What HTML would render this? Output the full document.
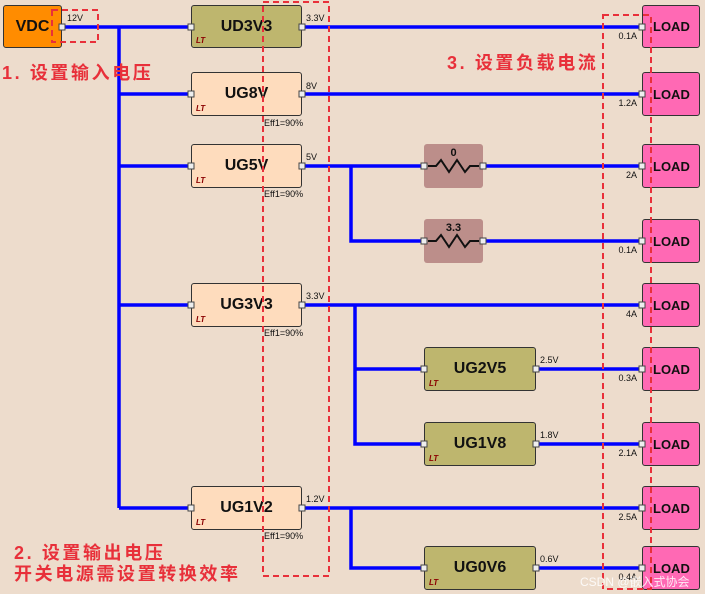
<!DOCTYPE html>
<html><head><meta charset="utf-8"><style>
body{margin:0;width:705px;height:594px;background:#EDDCCC;position:relative;overflow:hidden;font-family:"Liberation Sans","Noto Sans CJK SC",sans-serif}
.b{position:absolute;box-sizing:border-box;border:1.5px solid #333;border-radius:3px;display:flex;align-items:center;justify-content:center;font-weight:bold;font-size:16px;color:#111}
.o{background:#BEB66E}.p{background:#FEDCBD}.l{background:#FF69B4;font-size:13px;justify-content:flex-start;padding-left:10px}
.r{background:#BC8E8A;border:none;font-size:11px;align-items:flex-start;padding-top:3px}
.lt{position:absolute;left:4px;bottom:2px;font-size:8px;color:#8B0000;font-style:italic}
.t{position:absolute;font-size:9px;color:#111;white-space:nowrap}
.red{position:absolute;color:#E8303A;font-size:18px;letter-spacing:2.6px;white-space:nowrap;font-weight:bold}
svg{position:absolute;left:0;top:0}
</style></head><body>
<svg width="705" height="594">
<g stroke="#0000FF" stroke-width="3.5" fill="none">
<path d="M62 27H191M119 27V508M119 94H191M119 166H191M119 305H191M119 508H191"/>
<path d="M302 27H642M302 94H642M302 166H424M351 166V241H424M483 166H642M483 241H642"/>
<path d="M302 305H642M355 305V444H424M355 369H424M536 369H642M536 444H642"/>
<path d="M302 508H642M351 508V568H424M536 568H642"/>
</g>
</svg>
<div class="b" style="left:3px;top:5px;width:59px;height:43px;background:#FF8C00">VDC</div>
<div class="b o" style="left:191px;top:5px;width:111px;height:43px">UD3V3<span class="lt">LT</span></div>
<div class="b p" style="left:191px;top:72px;width:111px;height:44px">UG8V<span class="lt">LT</span></div>
<div class="b p" style="left:191px;top:144px;width:111px;height:44px">UG5V<span class="lt">LT</span></div>
<div class="b p" style="left:191px;top:283px;width:111px;height:44px">UG3V3<span class="lt">LT</span></div>
<div class="b p" style="left:191px;top:486px;width:111px;height:44px">UG1V2<span class="lt">LT</span></div>
<div class="b o" style="left:424px;top:347px;width:112px;height:44px">UG2V5<span class="lt">LT</span></div>
<div class="b o" style="left:424px;top:422px;width:112px;height:44px">UG1V8<span class="lt">LT</span></div>
<div class="b o" style="left:424px;top:546px;width:112px;height:44px">UG0V6<span class="lt">LT</span></div>
<div class="b r" style="left:424px;top:144px;width:59px;height:44px">0</div>
<div class="b r" style="left:424px;top:219px;width:59px;height:44px">3.3</div>
<div class="b l" style="left:642px;top:5px;width:58px;height:43px">LOAD</div>
<div class="b l" style="left:642px;top:72px;width:58px;height:44px">LOAD</div>
<div class="b l" style="left:642px;top:144px;width:58px;height:44px">LOAD</div>
<div class="b l" style="left:642px;top:219px;width:58px;height:44px">LOAD</div>
<div class="b l" style="left:642px;top:283px;width:58px;height:44px">LOAD</div>
<div class="b l" style="left:642px;top:347px;width:58px;height:44px">LOAD</div>
<div class="b l" style="left:642px;top:422px;width:58px;height:44px">LOAD</div>
<div class="b l" style="left:642px;top:486px;width:58px;height:44px">LOAD</div>
<div class="b l" style="left:642px;top:546px;width:58px;height:44px">LOAD</div>
<svg width="705" height="594">
<g stroke="#111" stroke-width="2" fill="none">
<path d="M428 166h8l5-6 8 12 8-12 8 12 5-6h9"/>
<path d="M428 241h8l5-6 8 12 8-12 8 12 5-6h9"/>
</g>
<g fill="#eee" stroke="#444" stroke-width="1">
<rect x="59" y="24" width="6" height="6"/>
<rect x="188" y="24" width="6" height="6"/><rect x="299" y="24" width="6" height="6"/>
<rect x="188" y="91" width="6" height="6"/><rect x="299" y="91" width="6" height="6"/>
<rect x="188" y="163" width="6" height="6"/><rect x="299" y="163" width="6" height="6"/>
<rect x="188" y="302" width="6" height="6"/><rect x="299" y="302" width="6" height="6"/>
<rect x="188" y="505" width="6" height="6"/><rect x="299" y="505" width="6" height="6"/>
<rect x="421" y="366" width="6" height="6"/><rect x="533" y="366" width="6" height="6"/>
<rect x="421" y="441" width="6" height="6"/><rect x="533" y="441" width="6" height="6"/>
<rect x="421" y="565" width="6" height="6"/><rect x="533" y="565" width="6" height="6"/>
<rect x="421" y="163" width="6" height="6"/><rect x="480" y="163" width="6" height="6"/>
<rect x="421" y="238" width="6" height="6"/><rect x="480" y="238" width="6" height="6"/>
<rect x="639" y="24" width="6" height="6"/><rect x="639" y="91" width="6" height="6"/>
<rect x="639" y="163" width="6" height="6"/><rect x="639" y="238" width="6" height="6"/>
<rect x="639" y="302" width="6" height="6"/><rect x="639" y="366" width="6" height="6"/>
<rect x="639" y="441" width="6" height="6"/><rect x="639" y="505" width="6" height="6"/>
<rect x="639" y="565" width="6" height="6"/>
</g>
<g stroke="#E8303A" stroke-width="2" stroke-dasharray="6,4" fill="none">
<rect x="52" y="10" width="46" height="32"/>
<rect x="263" y="2" width="66" height="574"/>
<rect x="603" y="15" width="48" height="574"/>
</g>
</svg>
<div class="t" style="left:67px;top:13px">12V</div>
<div class="t" style="left:306px;top:13px">3.3V</div>
<div class="t" style="left:306px;top:81px">8V</div>
<div class="t" style="left:306px;top:152px">5V</div>
<div class="t" style="left:306px;top:291px">3.3V</div>
<div class="t" style="left:306px;top:494px">1.2V</div>
<div class="t" style="left:540px;top:355px">2.5V</div>
<div class="t" style="left:540px;top:430px">1.8V</div>
<div class="t" style="left:540px;top:554px">0.6V</div>
<div class="t" style="left:264px;top:118px">Eff1=90%</div>
<div class="t" style="left:264px;top:189px">Eff1=90%</div>
<div class="t" style="left:264px;top:328px">Eff1=90%</div>
<div class="t" style="left:264px;top:531px">Eff1=90%</div>
<div class="t" style="right:68px;top:31px">0.1A</div>
<div class="t" style="right:68px;top:98px">1.2A</div>
<div class="t" style="right:68px;top:170px">2A</div>
<div class="t" style="right:68px;top:245px">0.1A</div>
<div class="t" style="right:68px;top:309px">4A</div>
<div class="t" style="right:68px;top:373px">0.3A</div>
<div class="t" style="right:68px;top:448px">2.1A</div>
<div class="t" style="right:68px;top:512px">2.5A</div>
<div class="t" style="right:68px;top:572px">0.4A</div>
<div class="red" style="left:2px;top:59px">1. 设置输入电压</div>
<div class="red" style="left:447px;top:49px">3. 设置负载电流</div>
<div class="red" style="left:14px;top:539px">2. 设置输出电压</div>
<div class="red" style="left:14px;top:560px">开关电源需设置转换效率</div>
<div class="t" style="left:580px;top:573px;font-size:12px;color:#fff;opacity:.85">CSDN @嵌入式协会</div>
</body></html>
